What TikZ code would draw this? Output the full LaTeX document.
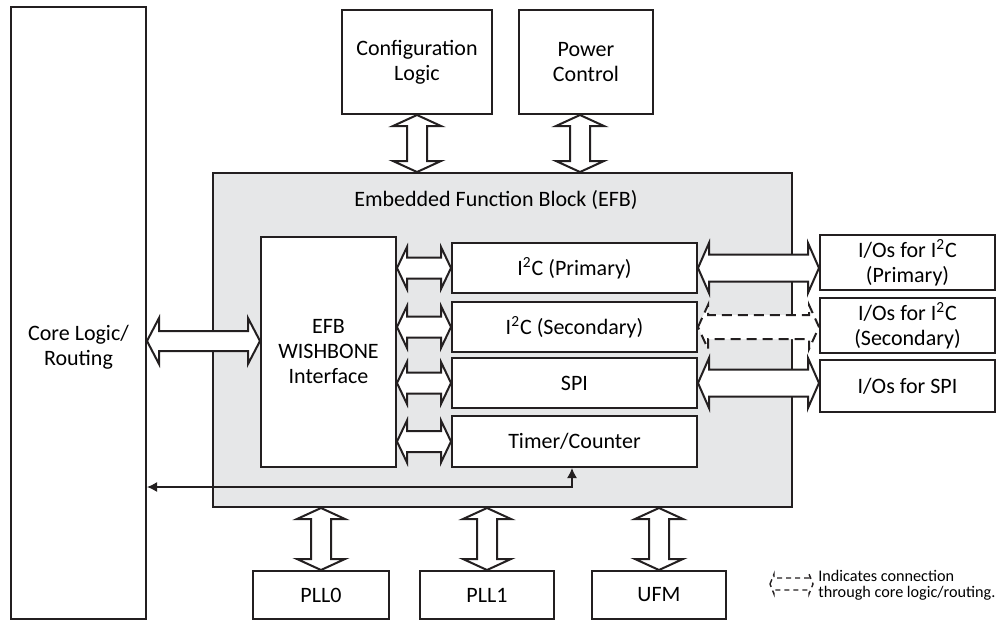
\documentclass[tikz,border=0pt]{standalone}
\usepackage{fontspec}
\setmainfont{Carlito}
\usetikzlibrary{calc,arrows.meta}
\definecolor{efbgray}{RGB}{230,231,232}
\definecolor{ink}{RGB}{35,31,32}
\tikzstyle{block}=[rectangle, draw=ink, line width=1pt, fill=white, inner sep=2pt, align=center, font=\fontsize{11pt}{12.5pt}\selectfont]
\tikzstyle{bus}=[draw=ink, line width=1pt, fill=white, line join=miter]
\tikzstyle{viacore}=[bus, dash pattern=on 5pt off 3pt]
\tikzstyle{feedback}=[draw=ink, line width=0.7pt, {Latex[length=5pt,width=5pt]}-{Latex[length=5pt,width=5pt]}]

\newcommand{\hbus}[6][]{%
  \draw[bus,#1] let \p1=#2, \p2=#3 in
    (\x1,\y1) -- (\x1+#4,\y1+#5) -- (\x1+#4,\y1+#6) -- (\x2-#4,\y1+#6) -- (\x2-#4,\y1+#5)
    -- (\x2,\y1) -- (\x2-#4,\y1-#5) -- (\x2-#4,\y1-#6) -- (\x1+#4,\y1-#6) -- (\x1+#4,\y1-#5) -- cycle;}
\newcommand{\vbus}[6][]{%
  \draw[bus,#1] let \p1=#2, \p2=#3 in
    (\x1,\y1) -- (\x1+#5,\y1-#4) -- (\x1+#6,\y1-#4) -- (\x1+#6,\y2+#4) -- (\x1+#5,\y2+#4)
    -- (\x1,\y2) -- (\x1-#5,\y2+#4) -- (\x1-#6,\y2+#4) -- (\x1-#6,\y1-#4) -- (\x1-#5,\y1-#4) -- cycle;}

\begin{document}
\begin{tikzpicture}[x=0.5pt, y=-0.5pt]
    \useasboundingbox (0,0) rectangle (1008,623);
    \node[block, minimum width=67.5pt, minimum height=306pt,
          label={[align=center, yshift=-17pt, font=\fontsize{11pt}{12.5pt}\selectfont]center:Core Logic/\\Routing}] (core) at (78.5, 313) {};
    \node[block, minimum width=75pt, minimum height=52pt] (cfg) at (417, 62) {Configuration\\Logic};
    \node[block, minimum width=67pt, minimum height=52pt] (pwr) at (586, 62) {Power\\Control};

    \node[block, fill=efbgray, minimum width=289.5pt, minimum height=167pt] (efb) at (502.5, 340) {};
    \node[font=\fontsize{11pt}{12.5pt}\selectfont, inner sep=0pt] (efbtitle) at (496, 200) {Embedded Function Block (EFB)};
    \node[block, minimum width=67.5pt, minimum height=115pt] (wb) at (328.5, 352) {EFB\\WISHBONE\\Interface};
    \node[block, minimum width=122.5pt, minimum height=25pt] (i2cp) at (574.5, 268) {I\textsuperscript{2}C (Primary)};
    \node[block, minimum width=122.5pt, minimum height=25pt] (i2cs) at (574.5, 327) {I\textsuperscript{2}C (Secondary)};
    \node[block, minimum width=122.5pt, minimum height=25pt] (spi) at (574.5, 383) {SPI};
    \node[block, minimum width=122.5pt, minimum height=25.5pt] (timer) at (574.5, 441.5) {Timer/Counter};

    \node[block, minimum width=87.5pt, minimum height=27.5pt] (iop) at (907.5, 262.5) {I/Os for I\textsuperscript{2}C\\(Primary)};
    \node[block, minimum width=87.5pt, minimum height=27.5pt] (ios) at (907.5, 325.5) {I/Os for I\textsuperscript{2}C\\(Secondary)};
    \node[block, minimum width=87.5pt, minimum height=26pt] (iospi) at (907.5, 386) {I/Os for SPI};

    \node[block, minimum width=68pt, minimum height=24pt] (pll0) at (321, 595) {PLL0};
    \node[block, minimum width=67pt, minimum height=24pt] (pll1) at (487, 595) {PLL1};
    \node[block, minimum width=67pt, minimum height=24pt] (ufm) at (659, 595) {UFM};

    \vbus{(cfg.south)}{(cfg.south |- efb.north)}{5.5pt}{12pt}{5pt}
    \vbus{($(pwr.south)+(-6,0)$)}{($(pwr.south |- efb.north)+(-6,0)$)}{5.5pt}{12pt}{5pt}
    \vbus{(pll0.north |- efb.south)}{(pll0.north)}{5.5pt}{12pt}{5pt}
    \vbus{(pll1.north |- efb.south)}{(pll1.north)}{5.5pt}{12pt}{5pt}
    \vbus{(ufm.north |- efb.south)}{(ufm.north)}{5.5pt}{12pt}{5pt}

    \hbus{($(core.east |- wb.west)+(0,-11)$)}{($(wb.west)+(0,-11)$)}{6pt}{11.5pt}{5pt}
    \foreach \blk in {i2cp, i2cs, spi, timer}
        \hbus{(wb.east |- \blk.west)}{(\blk.west)}{5pt}{10.5pt}{5.25pt};
    \hbus{(i2cp.east)}{(iop.west |- i2cp.east)}{5.5pt}{12.5pt}{6.75pt}
    \hbus{(spi.east)}{(iospi.west |- spi.east)}{5.5pt}{12.5pt}{6.75pt}
    \hbus[viacore]{(i2cs.east)}{(ios.west |- i2cs.east)}{5pt}{11pt}{6pt}

    \coordinate (tcbend) at (572, 487);
    \draw[feedback] (core.east |- tcbend) -- (tcbend) -- (tcbend |- timer.south);

    \node[anchor=west, align=left, inner sep=0pt, font=\fontsize{8.1pt}{7.8pt}\selectfont] (legend) at (818, 585) {Indicates connection\\through core logic/routing.};
    \hbus[viacore, line width=0.7pt, dash pattern=on 2.5pt off 2pt]{($(legend.west)+(-48,-1)$)}{($(legend.west)+(-5,-1)$)}{2pt}{5pt}{3pt}
\end{tikzpicture}
\end{document}
